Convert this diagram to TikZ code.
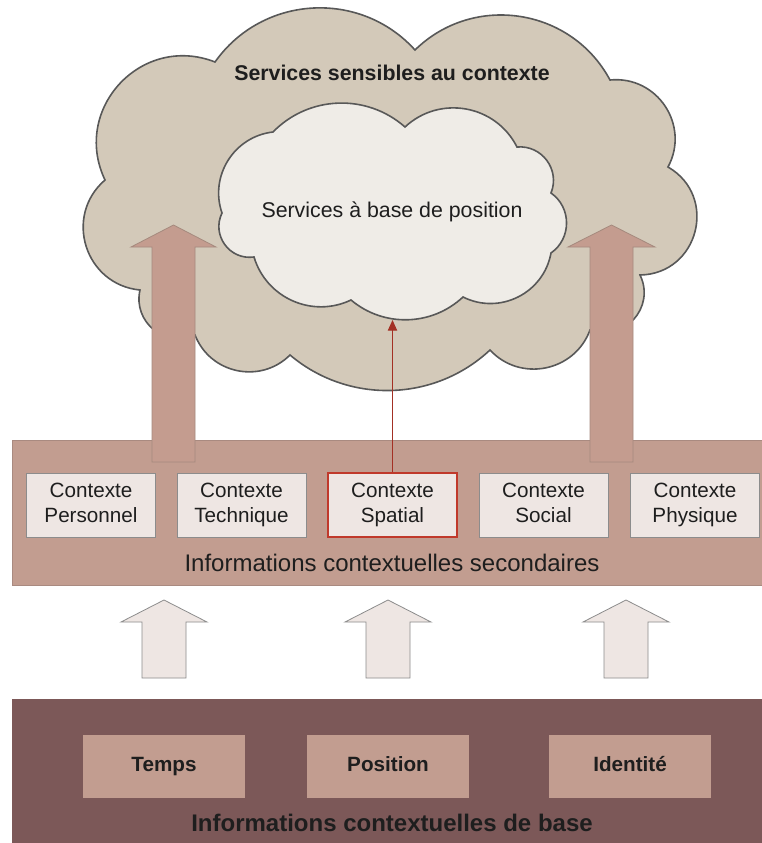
\documentclass[tikz,border=0pt]{standalone}
\usepackage{fontspec}
\setmainfont{Liberation Sans}
\usetikzlibrary{arrows.meta}
\definecolor{cloudout}{HTML}{D3C9B9}
\definecolor{cloudin}{HTML}{EFECE7}
\definecolor{cloudline}{HTML}{585858}
\definecolor{bandtwo}{HTML}{C29D90}
\definecolor{bandline}{HTML}{A98A80}
\definecolor{bandone}{HTML}{7C5858}
\definecolor{ctxfill}{HTML}{EEE6E3}
\definecolor{ctxline}{HTML}{8C8C8C}
\definecolor{spatred}{HTML}{C0392B}
\definecolor{bigarrow}{HTML}{C49C8F}
\definecolor{bigline}{HTML}{A58A7E}
\definecolor{txt}{HTML}{1E1E1E}
\tikzset{
  cloudstyle/.style={line width=1.2pt, draw=cloudline, line join=miter},
  ctxbox/.style={draw=ctxline, line width=0.6pt, fill=ctxfill, minimum width=96.75pt, minimum height=48pt,
    inner sep=0pt, align=center, text=txt, font=\fontsize{15.5}{18.5}\selectfont},
  basebox/.style={fill=bandtwo, minimum width=121.5pt, minimum height=47.25pt, inner sep=0pt,
    text height=11.5pt, text depth=3.5pt, text=txt, font=\fontsize{15.5}{18}\selectfont\bfseries},
  bigarr/.style={fill=bigarrow, draw=bigline, line width=0.6pt},
  lightarr/.style={fill=ctxfill, draw=ctxline, line width=0.6pt},
}
\newcommand\twolines[2]{#1\strut\\#2\strut}
% cloud through notch points; each bump is a circular-like arc with bulge ratio r = height/chord
\newcommand\bumps[1]{%
  \foreach \x/\y/\r [evaluate=\r as \bd using {2*atan(2*\r)},
                     evaluate=\r as \ls using {(1+4*\r*\r)/1.1745}] in {#1}
   { to[bend left=\bd, looseness=\ls] (\x,\y) }}
\begin{document}
\begin{tikzpicture}[x=0.75pt,y=-0.75pt]
\useasboundingbox (0,0) rectangle (762,843);
\fill[white] (0,0) rectangle (762,843);
% outer cloud
\path[cloudstyle, fill=cloudout] (105,180)
  \bumps{215/62/0.34, 415/50/0.24, 610/80/0.25, 668/167/0.30, 640/275/0.38, 590/330/0.34,
         490/350/0.28, 290/355/0.19, 195/335/0.27, 140/290/0.31, 105/180/0.33} -- cycle;
\node[font=\fontsize{16}{19}\selectfont\bfseries, text=txt] (title) at (392,73) {Services sensibles au contexte};
% inner cloud
\path[cloudstyle, fill=cloudin] (222,213)
  \bumps{273/132/0.24, 405/127/0.20, 517/147/0.25, 551/193/0.28, 551/253/0.26, 463/297/0.25,
         351/300/0.19, 254/257/0.23, 222/213/0.30} -- cycle;
\node[font=\fontsize{16}{19}\selectfont, text=txt] (lbs) at (392,212) {Services à base de position};
\coordinate (icb) at (392.5,320);
% secondary band
\node[fill=bandtwo, draw=bandline, line width=0.5pt, minimum width=562.5pt, minimum height=108.75pt, inner sep=0pt] (sec) at (387,512.5) {};
% big arrows
\draw[bigarr] (173.5,225) -- (216,247) -- (195,247) -- (195,462) -- (152,462) -- (152,247) -- (131,247) -- cycle;
\draw[bigarr] (611.5,225) -- (655,247) -- (633,247) -- (633,462) -- (590,462) -- (590,247) -- (568,247) -- cycle;
% context boxes
\node[ctxbox] (perso) at (91,505) {\twolines{Contexte}{Personnel}};
\node[ctxbox] (tech) at (241.5,505) {\twolines{Contexte}{Technique}};
\node[ctxbox, draw=spatred, line width=1pt] (spat) at (392.5,505) {\twolines{Contexte}{Spatial}};
\node[ctxbox] (soc) at (543.5,505) {\twolines{Contexte}{Social}};
\node[ctxbox] (phys) at (695,505) {\twolines{Contexte}{Physique}};
\node[font=\fontsize{18}{21}\selectfont, text=txt] (seclab) at (392,563) {Informations contextuelles secondaires};
\draw[spatred!85!black, line width=0.8pt, -{Triangle[length=8pt,width=7pt]}] (spat.north) -- (icb);
% light arrows
\foreach \cx in {164,388,626}{
  \draw[lightarr] (\cx,600) -- (\cx+43,622) -- (\cx+22,622) -- (\cx+22,678) -- (\cx-22,678) -- (\cx-22,622) -- (\cx-43,622) -- cycle;
}
% base band
\node[fill=bandone, minimum width=562.5pt, minimum height=108pt, inner sep=0pt] (base) at (387,771) {};
\node[basebox] (temps) at (164,766.5) {Temps};
\node[basebox] (pos) at (388,766.5) {Position};
\node[basebox] (ident) at (630,766.5) {Identité};
\node[font=\fontsize{18}{21}\selectfont\bfseries, text=txt] (baselab) at (392,823) {Informations contextuelles de base};
\end{tikzpicture}
\end{document}
